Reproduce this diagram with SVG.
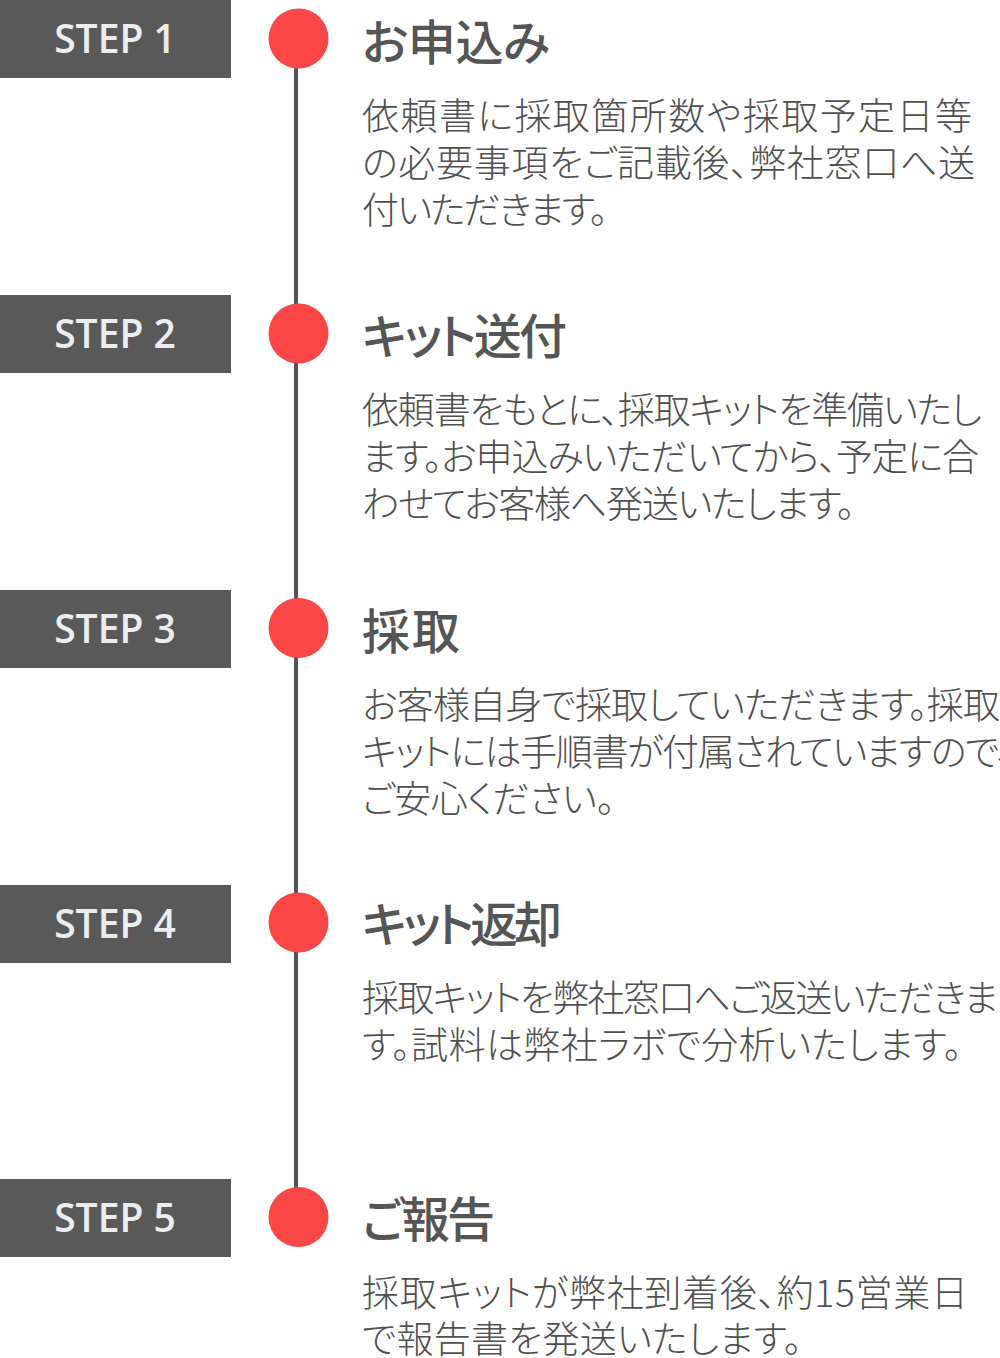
<svg xmlns="http://www.w3.org/2000/svg" width="1000" height="1358" viewBox="0 0 1000 1358">
<style>
.box{fill:#595959}
.lbl{font-family:"Open Sans","Liberation Sans",sans-serif;font-weight:600;font-size:39px;fill:#ebedf0}
.dot{fill:#fa4646}
.hd{font-family:"Noto Sans CJK JP",sans-serif;font-weight:500;font-size:48px;fill:#555;font-feature-settings:"palt"}
.tx{font-family:"Noto Sans CJK JP",sans-serif;font-weight:300;font-size:37px;fill:#505050;font-feature-settings:"palt"}
</style>
<rect width="1000" height="1358" fill="#fff"/>
<g id="connectors">
<line x1="296" y1="39" x2="296" y2="1217" stroke="#555" stroke-width="4"/>
</g>
<g id="step1">
<rect class="box" x="0" y="0" width="231" height="78"/>
<text class="lbl" x="115" y="53" text-anchor="middle">STEP 1</text>
<circle class="dot" cx="298.5" cy="38.5" r="30"/>
<text class="hd" x="362" y="39" dominant-baseline="central" textLength="188">お申込み</text>
<text class="tx" x="362" y="114" dominant-baseline="central" textLength="610">依頼書に採取箇所数や採取予定日等</text>
<text class="tx" x="362" y="161" dominant-baseline="central" textLength="613">の必要事項をご記載後、弊社窓口へ送</text>
<text class="tx" x="362" y="208" dominant-baseline="central" textLength="246">付いただきます。</text>
</g>
<g id="step2">
<rect class="box" x="0" y="295" width="231" height="78"/>
<text class="lbl" x="115" y="348" text-anchor="middle">STEP 2</text>
<circle class="dot" cx="298.5" cy="333.5" r="30"/>
<text class="hd" x="362" y="333" dominant-baseline="central" textLength="205">キット送付</text>
<text class="tx" x="362" y="408" dominant-baseline="central" textLength="620">依頼書をもとに、採取キットを準備いたし</text>
<text class="tx" x="362" y="455" dominant-baseline="central" textLength="617">ます。お申込みいただいてから、予定に合</text>
<text class="tx" x="362" y="502" dominant-baseline="central" textLength="493">わせてお客様へ発送いたします。</text>
</g>
<g id="step3">
<rect class="box" x="0" y="590" width="231" height="78"/>
<text class="lbl" x="115" y="643" text-anchor="middle">STEP 3</text>
<circle class="dot" cx="298.5" cy="628" r="30"/>
<text class="hd" x="362" y="628" dominant-baseline="central" textLength="98">採取</text>
<text class="tx" x="362" y="703" dominant-baseline="central" textLength="638">お客様自身で採取していただきます。採取</text>
<text class="tx" x="362" y="750" dominant-baseline="central" textLength="653">キットには手順書が付属されていますので、</text>
<text class="tx" x="362" y="797" dominant-baseline="central" textLength="253">ご安心ください。</text>
</g>
<g id="step4">
<rect class="box" x="0" y="885" width="231" height="78"/>
<text class="lbl" x="115" y="938" text-anchor="middle">STEP 4</text>
<circle class="dot" cx="298.5" cy="922.5" r="30"/>
<text class="hd" x="362" y="921" dominant-baseline="central" textLength="200">キット返却</text>
<text class="tx" x="362" y="996" dominant-baseline="central" textLength="636">採取キットを弊社窓口へご返送いただきま</text>
<text class="tx" x="362" y="1043" dominant-baseline="central" textLength="600">す。試料は弊社ラボで分析いたします。</text>
</g>
<g id="step5">
<rect class="box" x="0" y="1179" width="231" height="78"/>
<text class="lbl" x="115" y="1232" text-anchor="middle">STEP 5</text>
<circle class="dot" cx="298.5" cy="1217" r="30"/>
<text class="hd" x="362" y="1216" dominant-baseline="central" textLength="133">ご報告</text>
<text class="tx" x="362" y="1291" dominant-baseline="central" textLength="606">採取キットが弊社到着後、約15営業日</text>
<text class="tx" x="362" y="1337" dominant-baseline="central" textLength="440">で報告書を発送いたします。</text>
</g>
</svg>
